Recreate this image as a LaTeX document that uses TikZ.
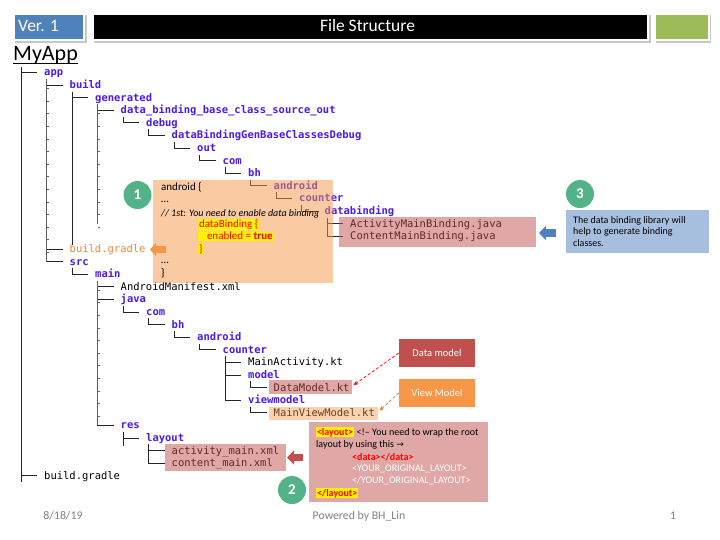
\documentclass[tikz,border=0pt]{standalone}
\usepackage{fontspec}
\setmainfont{Carlito}
\setsansfont{Carlito}
\setmonofont{DejaVu Sans Mono}
\newfontfamily\djv{DejaVu Sans}
\usetikzlibrary{arrows.meta}
\definecolor{dirblue}{RGB}{76,26,232}
\definecolor{hdrblue}{RGB}{79,129,189}
\definecolor{hdrgreen}{RGB}{155,187,89}
\definecolor{offred}{RGB}{192,80,77}
\definecolor{offorange}{RGB}{247,150,70}
\definecolor{offblue}{RGB}{167,191,222}
\definecolor{numgreen}{RGB}{84,178,137}
\definecolor{gradleor}{RGB}{238,135,55}
\definecolor{footgray}{RGB}{130,130,130}
\newcommand\entry[5]{%
  \pgfmathsetmacro\ex{44+25.5*(#3-1)}%
  \pgfmathsetmacro\ey{76+12.6*#2}%
  \node[#4] (#1) at (\ex,\ey) {#5};}
\newcommand\conn[2]{\draw[treeline] ([shift={(2.5,3)}]#1.base west) |- ([shift={(-7,-3.5)}]#2.base west);}
% gray ticked trunk: parent node, last child node, first tick row, last tick row
\newcommand\gtrunk[4]{%
  \path ([shift={(2.5,3)}]#1.base west) coordinate (gtstart);
  \path ([shift={(0,-3.5)}]#2.base) coordinate (gtend);
  \draw[graytrunk] (gtstart) -- (gtstart |- gtend);
  \foreach \r in {#3,...,#4}{%
    \path (0,{76+12.6*\r}) coordinate (gtk);
    \draw[graytick] (gtstart |- gtk) -- ++(2.2,0);}}
\begin{document}
\begin{tikzpicture}[x=1pt,y=-1pt,
  treeline/.style={line width=0.8pt, black!85},
  graytrunk/.style={line width=1.2pt, black!62},
  graytick/.style={line width=0.7pt, black!62},
  dirtxt/.style={anchor=base west, inner sep=0pt, font=\fontsize{10.5}{12}\ttfamily\bfseries, text=dirblue},
  filetxt/.style={anchor=base west, inner sep=0pt, font=\fontsize{10.5}{12}\ttfamily, text=black},
  gradletxt/.style={anchor=base west, inner sep=0pt, font=\fontsize{10.5}{12}\ttfamily, text=gradleor},
  smalltxt/.style={anchor=base west, inner sep=0pt, font=\fontsize{10}{12}\sffamily},
  codetxt/.style={anchor=base west, inner sep=0pt, font=\fontsize{11}{12}\sffamily},
  yl/.style={anchor=base west, inner sep=0.8pt, fill=yellow, font=\fontsize{10}{12}\sffamily, text=red},
  numcirc/.style={circle, fill=numgreen, minimum size=28pt, inner sep=0pt, text=white, font=\fontsize{15}{16}\sffamily\bfseries},
  overlay/.style={anchor=north west, inner sep=0pt, fill opacity=0.5, fill=offred},
  blockarrow/.style={line width=7pt},
  footer/.style={anchor=base, inner sep=0pt, text=footgray, font=\fontsize{11.8}{13}\sffamily}]
\useasboundingbox (0,0) rectangle (720,540);
\fill[white] (0,0) rectangle (720,540);

% ---------- header ----------
\fill[black!22] (14.5,15) rectangle (86.5,43);
\fill[black!22] (93.5,15) rectangle (651,43);
\fill[black!22] (655.5,15) rectangle (711,43);
\node[anchor=north west, minimum width=70pt, minimum height=26pt, fill=hdrblue, draw=white, line width=2pt] (verbox) at (13,13) {};
\node[anchor=north west, minimum width=555pt, minimum height=26pt, fill=black, draw=white, line width=2pt] (titlebox) at (92,13) {};
\node[anchor=north west, minimum width=54pt, minimum height=26pt, fill=hdrgreen, draw=white, line width=2pt] (greenbox) at (654,13) {};
\node[anchor=base west, inner sep=0pt, text=white, font=\fontsize{17.5}{19}\sffamily] (vertxt) at (18,32) {Ver. 1};
\node[anchor=base, inner sep=0pt, text=white, font=\fontsize{17.5}{19}\sffamily] (titletxt) at (367.5,32) {File Structure};

% ---------- root ----------
\node[anchor=base west, inner sep=0pt, font=\fontsize{22}{24}\sffamily] (myapp) at (13,61) {MyApp};
\draw[line width=0.9pt] ([shift={(0,2.5)}]myapp.base west) -- ([shift={(0,2.5)}]myapp.base east);

% ---------- tree entries ----------
\entry{app}{0}{1}{dirtxt}{app}
\entry{build}{1}{2}{dirtxt}{build}
\entry{generated}{2}{3}{dirtxt}{generated}
\entry{dbbase}{3}{4}{dirtxt}{data\_binding\_base\_class\_source\_out}
\entry{debug}{4}{5}{dirtxt}{debug}
\entry{dbgen}{5}{6}{dirtxt}{dataBindingGenBaseClassesDebug}
\entry{outa}{6}{7}{dirtxt}{out}
\entry{coma}{7}{8}{dirtxt}{com}
\entry{bha}{8}{9}{dirtxt}{bh}
\entry{androida}{9}{10}{dirtxt}{android}
\entry{countera}{10}{11}{dirtxt}{counter}
\entry{databinding}{11}{12}{dirtxt}{databinding}
\entry{amb}{12}{13}{filetxt}{ActivityMainBinding.java}
\entry{cmb}{13}{13}{filetxt}{ContentMainBinding.java}
\entry{gradlea}{14}{2}{gradletxt}{build.gradle}
\entry{src}{15}{2}{dirtxt}{src}
\entry{main}{16}{3}{dirtxt}{main}
\entry{manifest}{17}{4}{filetxt}{AndroidManifest.xml}
\entry{java}{18}{4}{dirtxt}{java}
\entry{comb}{19}{5}{dirtxt}{com}
\entry{bhb}{20}{6}{dirtxt}{bh}
\entry{androidb}{21}{7}{dirtxt}{android}
\entry{counterb}{22}{8}{dirtxt}{counter}
\entry{mainact}{23}{9}{filetxt}{MainActivity.kt}
\entry{model}{24}{9}{dirtxt}{model}
\entry{datamodel}{25}{10}{filetxt}{DataModel.kt}
\entry{viewmodel}{26}{9}{dirtxt}{viewmodel}
\entry{mainvm}{27}{10}{filetxt}{MainViewModel.kt}
\entry{res}{28}{4}{dirtxt}{res}
\entry{layout}{29}{5}{dirtxt}{layout}
\entry{actxml}{30}{6}{filetxt}{activity\_main.xml}
\entry{contxml}{31}{6}{filetxt}{content\_main.xml}
\entry{gradleb}{32}{1}{filetxt}{build.gradle}

% ---------- tree lines ----------
\coordinate (rootv) at (21,67);
\coordinate (rootend) at (21,482);
\draw[treeline] (rootv) -- (rootend);
\draw[treeline] (rootv |- app.base) ++(0,-3.5) -- ([shift={(-7,-3.5)}]app.base west);
\draw[treeline] (rootv |- gradleb.base) ++(0,-3.5) -- ([shift={(-7,-3.5)}]gradleb.base west);
\conn{app}{build}\conn{app}{gradlea}\conn{app}{src}
\conn{build}{generated}
\conn{generated}{dbbase}
\conn{dbbase}{debug}\conn{debug}{dbgen}\conn{dbgen}{outa}\conn{outa}{coma}
\conn{coma}{bha}\conn{bha}{androida}\conn{androida}{countera}\conn{countera}{databinding}
\conn{databinding}{amb}\conn{databinding}{cmb}
\conn{src}{main}
\conn{main}{manifest}\conn{main}{java}\conn{main}{res}
\conn{java}{comb}\conn{comb}{bhb}\conn{bhb}{androidb}\conn{androidb}{counterb}
\conn{counterb}{mainact}\conn{counterb}{model}\conn{counterb}{viewmodel}
\conn{model}{datamodel}\conn{viewmodel}{mainvm}
\conn{res}{layout}
\conn{layout}{actxml}\conn{layout}{contxml}
\coordinate (ybuild) at (0,245);
\coordinate (yres) at (0,446);
\draw[treeline] ([shift={(2.5,3)}]build.base west) -- ([shift={(2.5,0)}]build.base west |- ybuild);
\draw[treeline] ([shift={(2.5,3)}]res.base west) -- ([shift={(2.5,0)}]res.base west |- yres);
% gray ticked trunks (continued box-drawing columns)
\gtrunk{app}{src}{1}{14}
\gtrunk{generated}{amb}{3}{12}
\gtrunk{main}{res}{17}{27}

% ---------- translucent highlights ----------
\node[overlay, minimum width=197pt, minimum height=30pt] (bindhl) at (339,217) {};
\node[overlay, minimum width=83pt, minimum height=14pt] (dmhl) at (269,380) {};
\node[overlay, fill=offorange, fill opacity=0.43, minimum width=109pt, minimum height=13pt] (vmhl) at (269,407) {};
\node[overlay, minimum width=121pt, minimum height=27pt] (layhl) at (165,444) {};

% ---------- callout 1 ----------
\node[anchor=north west, inner sep=0pt, fill=offorange, fill opacity=0.5, minimum width=180pt, minimum height=103pt] (gradlebox) at (153,180) {};
\node[codetxt] (c1a) at (161,191) {android \{};
\node[codetxt] (c1b) at (161,203) {…};
\node[smalltxt] (c1c) at (161,216) {\itshape // 1st: You need to enable data binding};
\node[yl, font=\fontsize{11}{12}\sffamily] (c1d) at (198,228) {dataBinding \{};
\node[yl, font=\fontsize{11}{12}\sffamily] (c1e) at (198,240) {\hspace*{8pt}enabled = \textbf{true}};
\node[yl, font=\fontsize{11}{12}\sffamily] (c1f) at (198,252) {\}};
\node[codetxt] (c1g) at (161,263) {…};
\node[codetxt] (c1h) at (161,276) {\}};
\node[numcirc] (n1) at (137.5,195) {1};
\coordinate (a1s) at (166,249.5);
\coordinate (a1e) at (150,249.5);
\draw[blockarrow, offorange, -{Triangle[length=6pt,width=13pt]}] (a1s) -- (a1e);

% ---------- callout 3 ----------
\node[anchor=north west, inner sep=0pt, fill=offblue, minimum width=143pt, minimum height=43pt] (bluebox) at (566,210) {};
\node[smalltxt] (c3a) at (573,223) {The data binding library will};
\node[smalltxt] (c3b) at (573,235) {help to generate binding};
\node[smalltxt] (c3c) at (573,246.5) {classes.};
\node[numcirc] (n3) at (580,194) {3};
\coordinate (a3s) at (556,233);
\coordinate (a3e) at (539,233);
\draw[blockarrow, hdrblue, -{Triangle[length=7pt,width=14pt]}] (a3s) -- (a3e);

% ---------- data model / view model ----------
\node[fill=offred, minimum width=76pt, minimum height=28pt, inner sep=0pt, text=white, font=\fontsize{10.5}{12}\sffamily] (dmbox) at (437,353) {Data model};
\node[fill=offorange, minimum width=76pt, minimum height=28pt, inner sep=0pt, text=white, font=\fontsize{10.5}{12}\sffamily] (vmbox) at (437,393) {View Model};
\draw[red, densely dashed, line width=0.7pt, -{Stealth[length=5pt,width=4pt]}] (dmbox.west) -- ([shift={(1,-2)}]dmhl.east);
\draw[offorange!85!black, densely dashed, line width=0.7pt, -{Stealth[length=5pt,width=4pt]}] (vmbox.west) -- ([shift={(1,-3)}]vmhl.east);

% ---------- callout 2 ----------
\node[anchor=north west, inner sep=0pt, fill=offred!50, minimum width=179pt, minimum height=80pt] (layoutbox) at (309,422) {};
\node[yl] (c2a) at (316,435) {\textbf{<layout>}};
\node[smalltxt] (c2b) at ([shift={(2.5,0)}]c2a.base east) {<!– You need to wrap the root};
\node[smalltxt] (c2c) at (316,447) {layout by using this {\djv\fontsize{9}{10}\selectfont →}};
\node[smalltxt, text=red] (c2d) at (352,460) {\textbf{<data></data>}};
\node[smalltxt, text=white] (c2e) at (352,471.5) {<YOUR\_ORIGINAL\_LAYOUT>};
\node[smalltxt, text=white] (c2f) at (352,483.5) {</YOUR\_ORIGINAL\_LAYOUT>};
\node[yl] (c2g) at (316,496) {\textbf{</layout>}};
\node[numcirc] (n2) at (292,490) {2};
\coordinate (a2s) at (303,457.5);
\coordinate (a2e) at (287,457.5);
\draw[blockarrow, offred, -{Triangle[length=7pt,width=14pt]}] (a2s) -- (a2e);

% ---------- footer ----------
\node[footer] (date) at (63,519) {8/18/19};
\node[footer] (powered) at (359,519) {Powered by BH\_Lin};
\node[footer] (pageno) at (673,519) {1};
\end{tikzpicture}
\end{document}
